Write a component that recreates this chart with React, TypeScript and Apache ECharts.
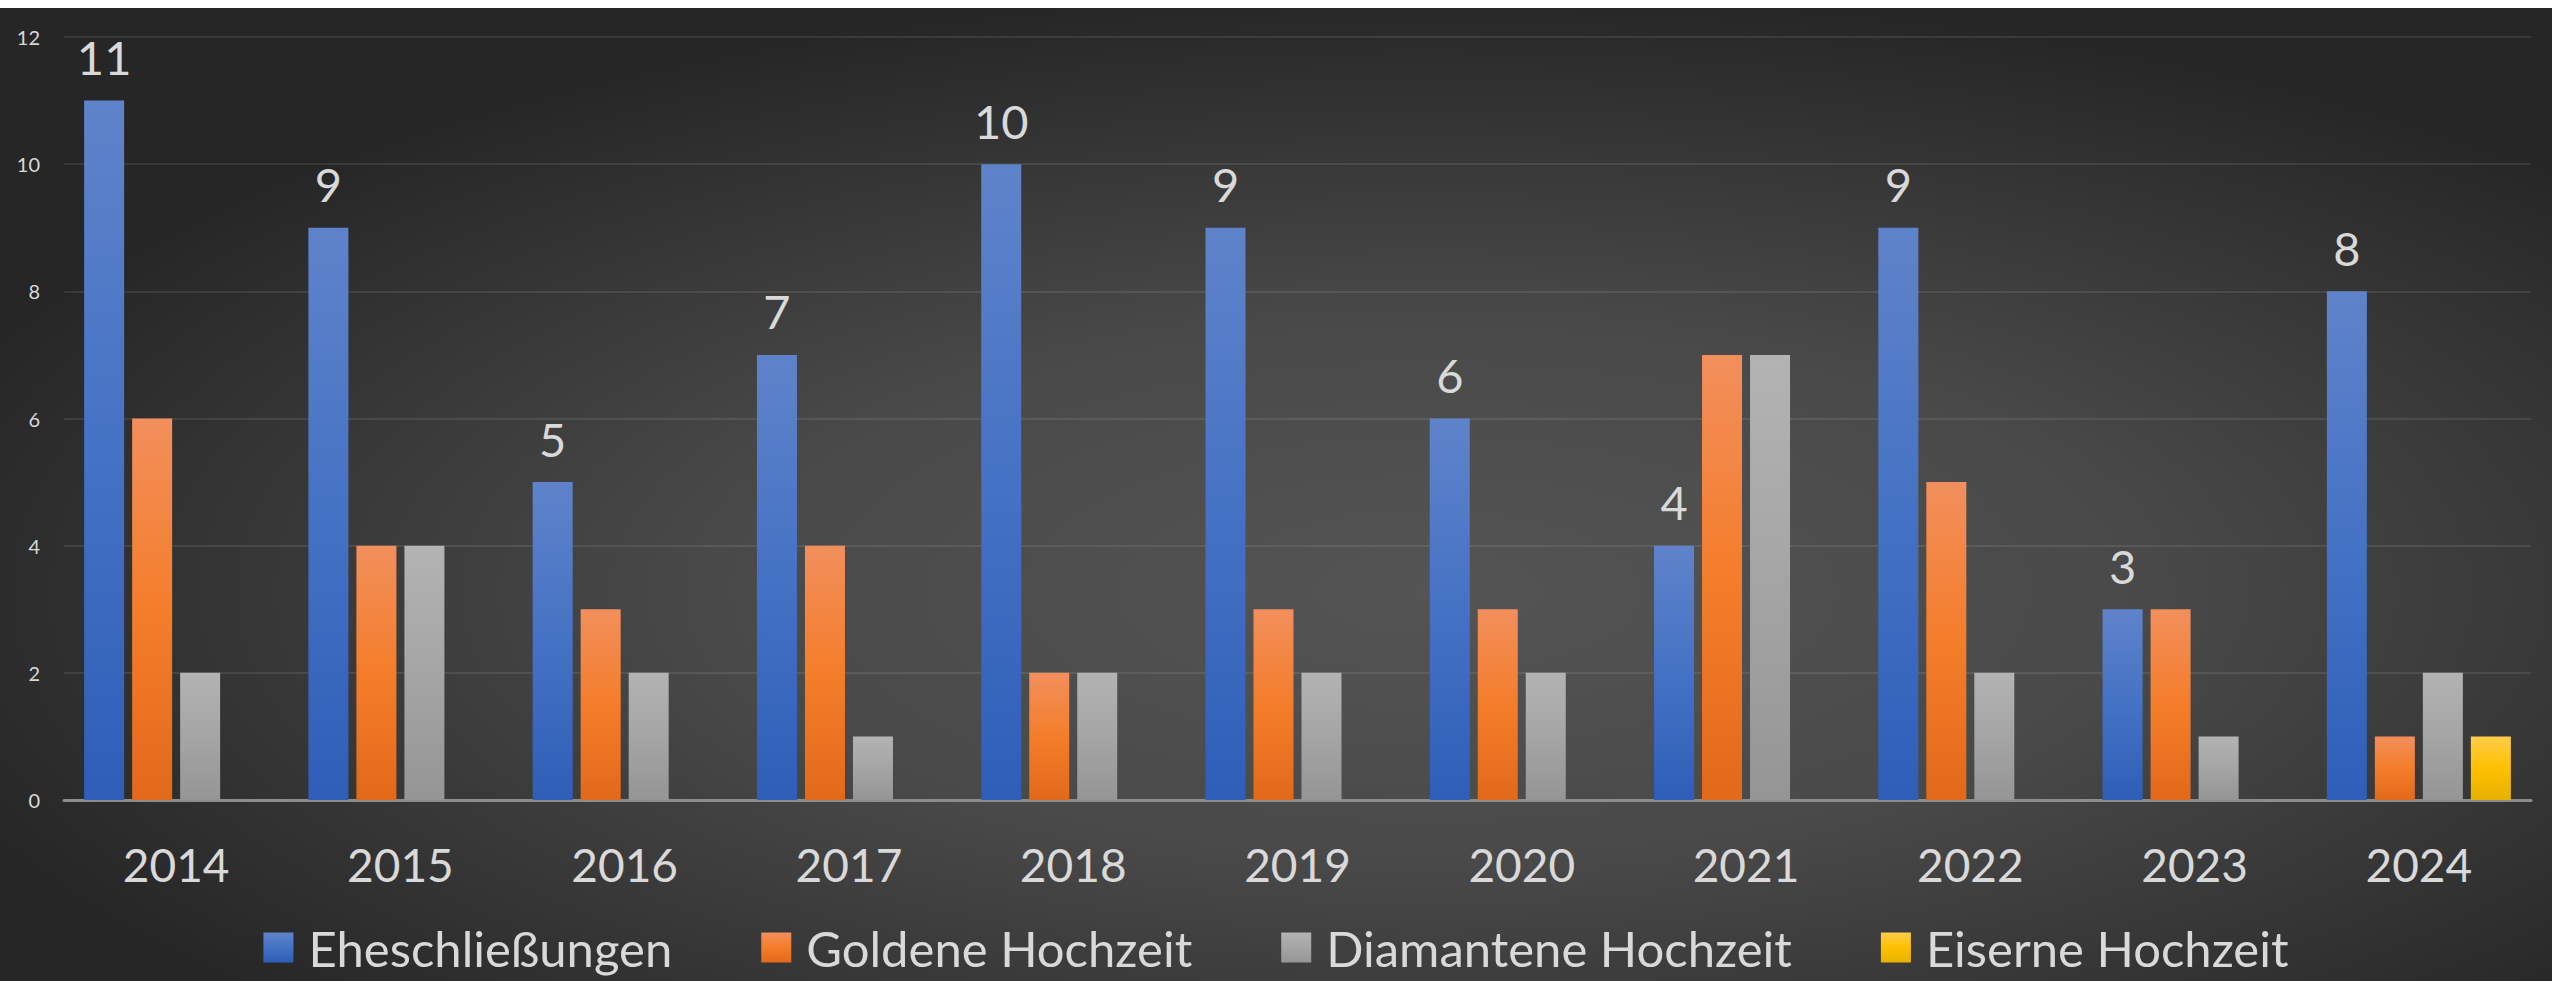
import React, { useEffect, useRef } from "react";
import * as echarts from "echarts";

const years = ["2014", "2015", "2016", "2017", "2018", "2019", "2020", "2021", "2022", "2023", "2024"];
const eheschliessungen = [11, 9, 5, 7, 10, 9, 6, 4, 9, 3, 8];
const goldene = [6, 4, 3, 4, 2, 3, 3, 7, 5, 3, 1];
const diamantene = [2, 4, 2, 1, 2, 2, 2, 7, 2, 1, 2];
const eiserne = [0, 0, 0, 0, 0, 0, 0, 0, 0, 0, 1];
const seriesNames = ["Eheschließungen", "Goldene Hochzeit", "Diamantene Hochzeit", "Eiserne Hochzeit"];

const FONT = "Lato";

function grad(top: string, mid: string, bottom: string) {
  return new echarts.graphic.LinearGradient(0, 0, 0, 1, [
    { offset: 0, color: top },
    { offset: 0.5, color: mid },
    { offset: 1, color: bottom },
  ]);
}

export default function App() {
  const ref = useRef<HTMLDivElement>(null);
  useEffect(() => {
    if (!ref.current) return;
    const chart = echarts.init(ref.current, undefined, { renderer: "svg" });
    const colors = [
      grad("#5f83ca", "#4472c4", "#2e5eb8"),
      grad("#f28f5c", "#f47d2a", "#e2691a"),
      grad("#b3b3b3", "#a5a5a5", "#959595"),
      grad("#ffcd4a", "#ffc000", "#e6b200"),
    ];
    const data = [eheschliessungen, goldene, diamantene, eiserne];
    chart.setOption({
      animation: false,
      backgroundColor: {
        type: "radial",
        x: 0.56,
        y: 0.6,
        r: 0.62,
        colorStops: [
          { offset: 0, color: "#545454" },
          { offset: 0.45, color: "#494949" },
          { offset: 1, color: "#262626" },
        ],
      },
      textStyle: { fontFamily: FONT },
      grid: { left: 64, right: 21, top: 29, bottom: 181, containLabel: false },
      legend: {
        data: seriesNames,
        bottom: 4,
        left: "center",
        icon: "rect",
        itemWidth: 30,
        itemHeight: 30,
        itemGap: 89,
        textStyle: { color: "#d9d9d9", fontSize: 49, fontFamily: FONT, padding: [0, 0, 0, 10] },
      },
      xAxis: {
        type: "category",
        data: years,
        axisLine: { lineStyle: { color: "#8c8c8c", width: 3 } },
        axisTick: { show: false },
        axisLabel: { color: "#d9d9d9", fontSize: 46, margin: 41, fontFamily: FONT },
      },
      yAxis: {
        type: "value",
        min: 0,
        max: 12,
        interval: 2,
        axisLine: { show: false },
        axisTick: { show: false },
        axisLabel: { color: "#d9d9d9", fontSize: 20, margin: 24, fontFamily: FONT },
        splitLine: { lineStyle: { color: "rgba(255,255,255,0.09)", width: 2 } },
      },
      series: seriesNames.map((name, i) => ({
        name,
        type: "bar",
        data: data[i],
        barWidth: 40,
        barGap: "20%",
        itemStyle: { color: colors[i] },
        label:
          i === 0
            ? {
                show: true,
                position: "top",
                distance: 20,
                color: "#d9d9d9",
                fontSize: 47,
                fontFamily: FONT,
              }
            : { show: false },
      })),
    });
    return () => chart.dispose();
  }, []);
  return (
    <div
      ref={ref}
      style={{ position: "absolute", left: 0, top: 8, width: 2552, height: 973 }}
    />
  );
}
